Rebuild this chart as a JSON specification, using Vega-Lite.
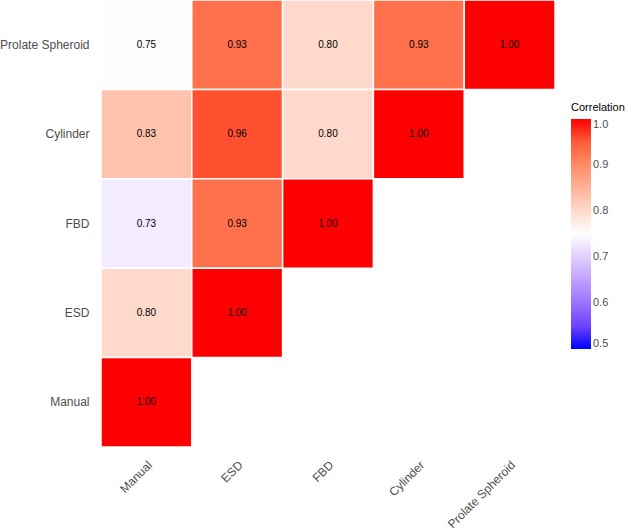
{
  "$schema": "https://vega.github.io/schema/vega-lite/v6.json",
  "width": 454,
  "height": 447,
  "autosize": {"type": "none"},
  "padding": {"left": 101, "top": 0, "right": 73, "bottom": 83},
  "background": "white",
  "config": {"view": {"stroke": null}, "font": "Liberation Sans"},
  "data": {"values": [
    {"x": "Manual", "y": "Prolate Spheroid", "r": 0.753},
    {"x": "ESD", "y": "Prolate Spheroid", "r": 0.93},
    {"x": "FBD", "y": "Prolate Spheroid", "r": 0.80},
    {"x": "Cylinder", "y": "Prolate Spheroid", "r": 0.93},
    {"x": "Prolate Spheroid", "y": "Prolate Spheroid", "r": 1.00},
    {"x": "Manual", "y": "Cylinder", "r": 0.83},
    {"x": "ESD", "y": "Cylinder", "r": 0.96},
    {"x": "FBD", "y": "Cylinder", "r": 0.80},
    {"x": "Cylinder", "y": "Cylinder", "r": 1.00},
    {"x": "Manual", "y": "FBD", "r": 0.73},
    {"x": "ESD", "y": "FBD", "r": 0.93},
    {"x": "FBD", "y": "FBD", "r": 1.00},
    {"x": "Manual", "y": "ESD", "r": 0.80},
    {"x": "ESD", "y": "ESD", "r": 1.00},
    {"x": "Manual", "y": "Manual", "r": 1.00}
  ]},
  "encoding": {
    "x": {"field": "x", "type": "nominal", "sort": ["Manual", "ESD", "FBD", "Cylinder", "Prolate Spheroid"],
      "scale": {"paddingInner": 0, "paddingOuter": 0},
      "axis": {"title": null, "domain": false, "ticks": false, "labelAngle": -45, "labelAlign": "right", "labelBaseline": "top", "labelFontSize": 12, "labelColor": "#4d4d4d", "labelPadding": 12}},
    "y": {"field": "y", "type": "nominal", "sort": ["Prolate Spheroid", "Cylinder", "FBD", "ESD", "Manual"],
      "scale": {"paddingInner": 0, "paddingOuter": 0},
      "axis": {"title": null, "domain": false, "ticks": false, "labelFontSize": 12, "labelColor": "#4d4d4d", "labelPadding": 12}}
  },
  "layer": [
    {
      "mark": {"type": "rect", "stroke": "white", "strokeWidth": 1.5},
      "encoding": {
        "color": {"field": "r", "type": "quantitative", "title": "Correlation",
          "scale": {"domain": [0.5, 0.75, 1], "range": ["#0000ff", "#ffffff", "#ff0000"], "interpolate": "lab"},
          "legend": {"orient": "none", "legendX": 470, "legendY": 102, "gradientLength": 230, "gradientThickness": 20,
            "values": [0.5, 0.6, 0.7, 0.8, 0.9, 1.0], "format": ".1f", "titleFontSize": 11, "titleFontWeight": "normal", "titleColor": "black",
            "labelFontSize": 11, "labelColor": "#4d4d4d", "titlePadding": 6, "gradientStrokeWidth": 0, "direction": "vertical"}}
      }
    },
    {
      "mark": {"type": "text", "fontSize": 10, "color": "black"},
      "encoding": {"text": {"field": "r", "type": "quantitative", "format": ".2f"}}
    }
  ]
}
